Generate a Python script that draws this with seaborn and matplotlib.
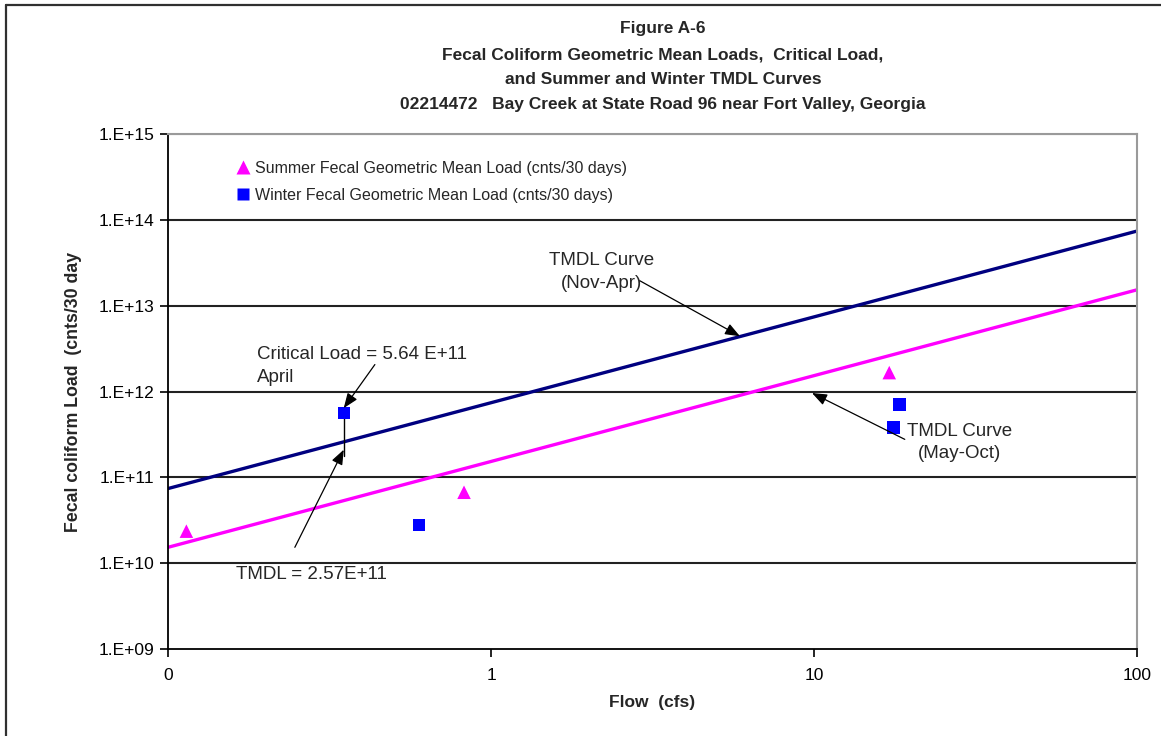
import matplotlib
matplotlib.use("Agg")
import matplotlib.pyplot as plt
from matplotlib.lines import Line2D
from matplotlib.ticker import FixedLocator, FixedFormatter, NullLocator
import seaborn as sns
import pandas as pd

# TMDL curves (load vs. flow)
curve_flow = [0.1, 1, 10, 100]
winter_tmdl = [7.4e10, 7.4e11, 7.4e12, 7.4e13]
summer_tmdl = [1.53e10, 1.53e11, 1.53e12, 1.53e13]

# Geometric mean loads (cnts/30 days)
summer_flow = [0.114, 0.825, 17.1]
summer_load = [2.36e10, 6.7e10, 1.66e12]
winter_flow = [0.35, 0.598, 18.4, 17.6]
winter_load = [5.64e11, 2.77e10, 7.06e11, 3.81e11]

# Critical condition
critical_flow = 0.35
critical_load = 5.64e11
critical_tmdl = 2.57e11

x_ticks = [0.1, 1, 10, 100]
x_tick_labels = ["0", "1", "10", "100"]
y_ticks = [1e9, 1e10, 1e11, 1e12, 1e13, 1e14, 1e15]
y_tick_labels = ["1.E+09", "1.E+10", "1.E+11", "1.E+12", "1.E+13", "1.E+14", "1.E+15"]

title_lines = [
    "Figure A-6",
    "Fecal Coliform Geometric Mean Loads,  Critical Load,",
    "and Summer and Winter TMDL Curves",
    "02214472   Bay Creek at State Road 96 near Fort Valley, Georgia",
]

sns.set_style("white")
plt.rcParams["font.family"] = ["Liberation Sans", "DejaVu Sans"]

W, H = 1161, 736
fig = plt.figure(figsize=(W / 100, H / 100), dpi=100)
ax = fig.add_axes([168 / W, 1 - 649 / H, (1137 - 168) / W, (649 - 134) / H])

curves = pd.DataFrame({"flow": curve_flow, "winter": winter_tmdl, "summer": summer_tmdl})
summer_df = pd.DataFrame({"flow": summer_flow, "load": summer_load})
winter_df = pd.DataFrame({"flow": winter_flow, "load": winter_load})

ax.set_xscale("log")
ax.set_yscale("log")

sns.lineplot(data=curves, x="flow", y="winter", ax=ax, color="#000080", lw=2.4, legend=False)
sns.lineplot(data=curves, x="flow", y="summer", ax=ax, color="#FF00FF", lw=2.4, legend=False)

sns.scatterplot(data=summer_df, x="flow", y="load", ax=ax, marker="^", s=95,
                color="#FF00FF", edgecolor="none", zorder=5, legend=False)
sns.scatterplot(data=winter_df, x="flow", y="load", ax=ax, marker="s", s=80,
                color="#0000FF", edgecolor="none", zorder=5, legend=False)

ax.set_xlim(0.1, 100)
ax.set_ylim(1e9, 1e15)

# horizontal decade gridlines
for yv in y_ticks[1:-1]:
    ax.axhline(yv, color="#222222", lw=1.5, zorder=1)
ax.axhline(y_ticks[-1], color="#9a9a9a", lw=1.5, zorder=1)

ax.xaxis.set_major_locator(FixedLocator(x_ticks))
ax.xaxis.set_major_formatter(FixedFormatter(x_tick_labels))
ax.xaxis.set_minor_locator(NullLocator())
ax.yaxis.set_major_locator(FixedLocator(y_ticks))
ax.yaxis.set_major_formatter(FixedFormatter(y_tick_labels))
ax.yaxis.set_minor_locator(NullLocator())
ax.tick_params(axis="both", direction="out", length=6, width=1.2, color="black",
               labelsize=12.5, labelcolor="black", bottom=True, left=True)
ax.tick_params(axis="x", pad=8)
ax.tick_params(axis="y", pad=4)

for side in ("left", "bottom"):
    ax.spines[side].set_color("black")
    ax.spines[side].set_linewidth(1.3)
for side in ("top", "right"):
    ax.spines[side].set_color("#9a9a9a")
    ax.spines[side].set_linewidth(1.5)

ax.set_xlabel("Flow  (cfs)", fontsize=12.5, fontweight="bold", labelpad=8)
ax.set_ylabel("Fecal coliform Load  (cnts/30 day", fontsize=12.8, fontweight="bold", labelpad=12)

# critical load connector and annotations
ax.plot([critical_flow, critical_flow], [critical_load, 1.75e11], color="black", lw=1, zorder=4)

arrow = dict(arrowstyle="-|>,head_length=0.9,head_width=0.35", color="black", lw=0.9,
             shrinkA=0, shrinkB=0)
ann_fs = 13.5

ax.text(2.2, 2.49e13, "TMDL Curve\n(Nov-Apr)", fontsize=ann_fs, ha="center", va="center",
        linespacing=1.45)
ax.annotate("", xy=(5.9, 4.4e12), xytext=(2.89, 1.95e13), arrowprops=arrow, zorder=6)

ax.text(28.3, 2.55e11, "TMDL Curve\n(May-Oct)", fontsize=ann_fs, ha="center", va="center",
        linespacing=1.45)
ax.annotate("", xy=(9.86, 9.6e11), xytext=(19.1, 2.77e11), arrowprops=arrow, zorder=6)

ax.text(0.1886, 2.0e12, "Critical Load = 5.64 E+11\nApril", fontsize=ann_fs, ha="left",
        va="center", linespacing=1.45)
ax.annotate("", xy=(critical_flow, 6.4e11), xytext=(0.437, 2.06e12), arrowprops=arrow, zorder=6)

ax.text(0.1625, 7.45e9, "TMDL = 2.57E+11", fontsize=ann_fs, ha="left", va="center")
ax.annotate("", xy=(critical_flow, 2.1e11), xytext=(0.247, 1.53e10), arrowprops=arrow, zorder=6)

# legend
handles = [
    Line2D([], [], ls="none", marker="^", ms=10, color="#FF00FF", mec="none",
           label="Summer Fecal Geometric Mean Load (cnts/30 days)"),
    Line2D([], [], ls="none", marker="s", ms=9, color="#0000FF", mec="none",
           label="Winter Fecal Geometric Mean Load (cnts/30 days)"),
]
ax.legend(handles=handles, loc="upper left", bbox_to_anchor=(0.061, 0.97), frameon=False,
          fontsize=11.5, handlelength=0.6, handletextpad=0.45, labelspacing=0.75,
          borderpad=0.2)

# title
title_y = [28, 55, 80, 104]
for line, yp in zip(title_lines, title_y):
    fig.text(663 / W, 1 - yp / H, line, fontsize=12.5, fontweight="bold",
             ha="center", va="center")

# outer frame (left and top edges)
fig.add_artist(Line2D([6 / W, 6 / W], [0, 1 - 5 / H], transform=fig.transFigure,
                      color="#303030", lw=1.6))
fig.add_artist(Line2D([6 / W, 1], [1 - 5 / H, 1 - 5 / H], transform=fig.transFigure,
                      color="#303030", lw=1.6))

fig.savefig("out.png", dpi=100, facecolor="white")
